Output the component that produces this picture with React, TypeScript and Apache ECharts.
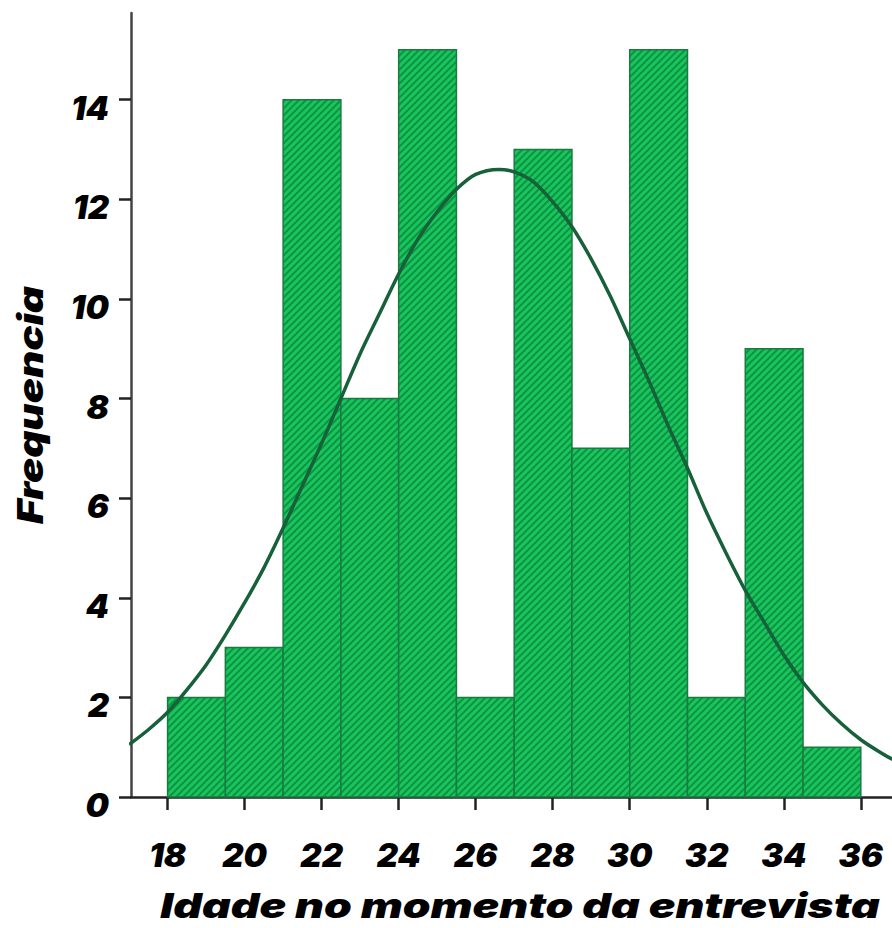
import React, { useEffect, useRef } from "react";
import * as echarts from "echarts";

// Histogram bins (age in years) and frequencies
const binStarts = [18, 19.5, 21, 22.5, 24, 25.5, 27, 28.5, 30, 31.5, 33, 34.5];
const binWidth = 1.5;
const frequencies = [2, 3, 14, 8, 15, 2, 13, 7, 15, 2, 9, 1];

// Normal curve (age, frequency)
const curveX = [17, 17.5, 18, 18.5, 19, 19.5, 20, 20.5, 21, 21.5, 22, 22.5, 23, 23.5, 24, 24.5, 25, 25.5, 26, 26.6, 27, 27.5, 28, 28.5, 29, 29.5, 30, 30.5, 31, 31.5, 32, 32.5, 33, 33.5, 34, 34.5, 35, 35.5, 36, 36.5, 37];
const curveY = [1.05, 1.35, 1.7, 2.15, 2.65, 3.25, 3.9, 4.6, 5.4, 6.25, 7.1, 8.0, 8.9, 9.7, 10.5, 11.2, 11.75, 12.2, 12.5, 12.6, 12.55, 12.35, 11.95, 11.45, 10.8, 10.05, 9.2, 8.35, 7.45, 6.6, 5.7, 4.9, 4.15, 3.5, 2.85, 2.3, 1.85, 1.47, 1.15, 0.9, 0.68];

const xTicks = [18, 20, 22, 24, 26, 28, 30, 32, 34, 36];
const yTicks = [0, 2, 4, 6, 8, 10, 12, 14];

const FONT = "Inter, 'DejaVu Sans'";

function makeHatch(): string {
  const size = 7;
  const c = document.createElement("canvas");
  c.width = size;
  c.height = size;
  const ctx = c.getContext("2d")!;
  ctx.fillStyle = "#1ac55d";
  ctx.fillRect(0, 0, size, size);
  ctx.strokeStyle = "#0e9445";
  ctx.lineWidth = 2;
  ctx.beginPath();
  ctx.moveTo(-1, size + 1);
  ctx.lineTo(size + 1, -1);
  ctx.moveTo(-2, 2);
  ctx.lineTo(2, -2);
  ctx.moveTo(size - 2, size + 2);
  ctx.lineTo(size + 2, size - 2);
  ctx.stroke();
  return c.toDataURL();
}

export default function App() {
  const ref = useRef<HTMLDivElement>(null);
  useEffect(() => {
    if (!ref.current) return;
    const chart = echarts.init(ref.current, undefined, { renderer: "svg" });
    const hatch = { image: makeHatch(), repeat: "repeat", imageWidth: 7, imageHeight: 7 };
    const histData = binStarts.map((s, i) => [s, s + binWidth, frequencies[i]]);
    const curveData = curveX.map((x, i) => [x, curveY[i]]);
    const labelStyle = {
      fontFamily: FONT,
      fontWeight: 900 as any,
      fontStyle: "italic" as const,
      color: "#000",
      fontSize: 33,
    };
    chart.setOption({
      animation: false,
      backgroundColor: "#fff",
      grid: { left: 131, right: 0, top: 13, bottom: 131, outerBoundsMode: "none", containLabel: false },
      xAxis: {
        type: "value",
        min: 17.05,
        max: 36.81,
        axisLine: { show: true, lineStyle: { color: "#222", width: 2.5 } },
        axisTick: { show: true, customValues: xTicks, length: 13, lineStyle: { color: "#222", width: 2.5 } },
        axisLabel: { ...labelStyle, customValues: xTicks, margin: 58, verticalAlign: "middle" },
        splitLine: { show: false },
      },
      yAxis: {
        type: "value",
        min: 0,
        max: 15.74,
        axisLine: { show: true, lineStyle: { color: "#444", width: 2.5 } },
        axisTick: { show: true, customValues: yTicks, length: 12, lineStyle: { color: "#222", width: 2.5 } },
        axisLabel: { ...labelStyle, customValues: yTicks, margin: 22, verticalAlign: "top", lineHeight: 16 },
        splitLine: { show: false },
      },
      graphic: [
        {
          type: "text",
          x: 520,
          y: 906,
          scaleX: 1.31,
          style: {
            text: "Idade no momento da entrevista",
            fontFamily: FONT,
            fontWeight: 900,
            fontStyle: "italic",
            fontSize: 34,
            fill: "#000",
            textAlign: "center",
            textVerticalAlign: "middle",
          },
        },
        {
          type: "text",
          x: 30,
          y: 405,
          rotation: Math.PI / 2,
          scaleX: 1.2,
          style: {
            text: "Frequencia",
            fontFamily: FONT,
            fontWeight: 900,
            fontStyle: "italic",
            fontSize: 35,
            fill: "#000",
            textAlign: "center",
            textVerticalAlign: "middle",
          },
        },
      ],
      series: [
        {
          type: "custom",
          data: histData,
          encode: { x: [0, 1], y: 2 },
          z: 2,
          renderItem: (params: any, api: any) => {
            const s = api.value(0);
            const e = api.value(1);
            const v = api.value(2);
            const p0 = api.coord([s, v]);
            const p1 = api.coord([e, 0]);
            return {
              type: "rect",
              shape: { x: p0[0], y: p0[1], width: p1[0] - p0[0], height: p1[1] - p0[1] },
              style: { fill: hatch, stroke: "#1b7a41", lineWidth: 1.5 },
            };
          },
        },
        {
          type: "line",
          data: curveData,
          smooth: 0.3,
          showSymbol: false,
          z: 5,
          lineStyle: { color: "#17613a", width: 3.5 },
          clip: true,
        },
      ],
    });
    return () => chart.dispose();
  }, []);
  return <div ref={ref} style={{ width: 892, height: 928, position: "absolute", left: 0, top: 0 }} />;
}
